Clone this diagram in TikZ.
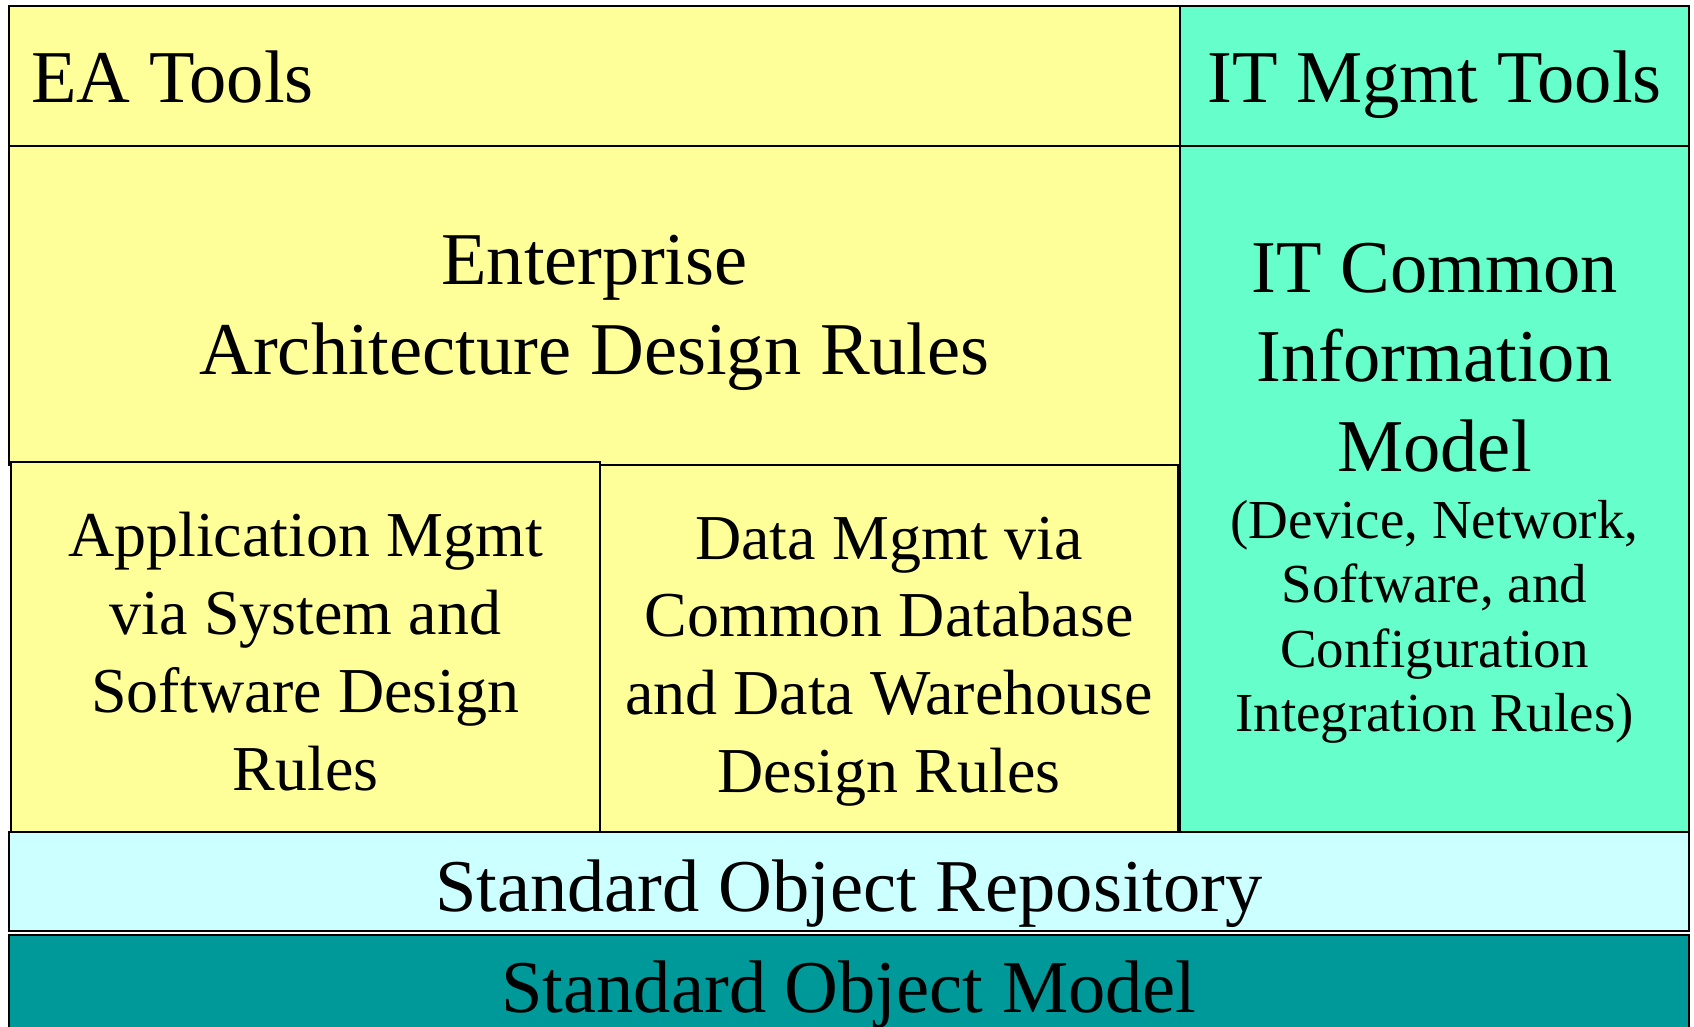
\documentclass[tikz,border=0pt]{standalone}
\usepackage{fontspec}
\setmainfont{Liberation Serif}
\definecolor{ylw}{HTML}{FFFF99}
\definecolor{mint}{HTML}{66FFCC}
\definecolor{lcyan}{HTML}{CCFFFF}
\definecolor{teal2}{HTML}{009999}
\begin{document}
\begin{tikzpicture}[x=1pt,y=-1pt,
  box/.style={draw=black, line width=2.2pt, rectangle, inner sep=0pt, outer sep=0pt},
  big/.style={inner sep=0pt, anchor=base, font=\fontsize{74.5}{89}\selectfont},
  mid/.style={inner sep=0pt, anchor=base, font=\fontsize{64}{77}\selectfont},
  small/.style={inner sep=0pt, anchor=base, font=\fontsize{55}{65}\selectfont}]
\useasboundingbox (0,0) rectangle (1694,1027);
\fill[white] (0,0) rectangle (1694,1027);
\clip (0,0) rectangle (1694,1027);
% boxes
\node[box, fill=ylw, minimum width=1171pt, minimum height=140pt] (eatools) at (594.5,76) {};
\node[box, fill=mint, minimum width=509pt, minimum height=140pt] (ittools) at (1434.5,76) {};
\node[box, fill=ylw, minimum width=1171pt, minimum height=319pt] (earules) at (594.5,305.5) {};
\node[box, fill=ylw, minimum width=589pt, minimum height=371pt] (app) at (305.5,647.5) {};
\node[box, fill=ylw, minimum width=578pt, minimum height=370pt] (data) at (889,650) {};
\node[box, fill=mint, minimum width=509pt, minimum height=686pt] (itcim) at (1434.5,489) {};
\node[box, fill=lcyan, minimum width=1680pt, minimum height=99pt] (repo) at (849,881.5) {};
\node[box, fill=teal2, minimum width=1680pt, minimum height=110pt] (som) at (849,990) {};
% texts
\node[big, anchor=base west] (t1) at (31,103) {EA Tools};
\node[big] (t2) at (1434.5,103) {IT Mgmt Tools};
\node[big] (t3a) at (594.5,284) {Enterprise};
\node[big] (t3b) at (594.5,374) {Architecture Design Rules};
\node[big] (t4a) at (1434.5,292) {IT Common};
\node[big] (t4b) at (1434.5,381) {Information};
\node[big] (t4c) at (1434.5,471) {Model};
\node[small] (t4d) at (1434.5,538) {(Device, Network,};
\node[small] (t4e) at (1434.5,602) {Software, and};
\node[small] (t4f) at (1434.5,667) {Configuration};
\node[small] (t4g) at (1434.5,731) {Integration Rules)};
\node[mid] (t5a) at (305.5,556) {Application Mgmt};
\node[mid] (t5b) at (305.5,634) {via System and};
\node[mid] (t5c) at (305.5,712) {Software Design};
\node[mid] (t5d) at (305.5,790) {Rules};
\node[mid] (t6a) at (889,559) {Data Mgmt via};
\node[mid] (t6b) at (889,636) {Common Database};
\node[mid] (t6c) at (889,714) {and Data Warehouse};
\node[mid] (t6d) at (889,792) {Design Rules};
\node[big] (t7) at (849,911) {Standard Object Repository};
\node[big] (t8) at (849,1012) {Standard Object Model};
\end{tikzpicture}
\end{document}
